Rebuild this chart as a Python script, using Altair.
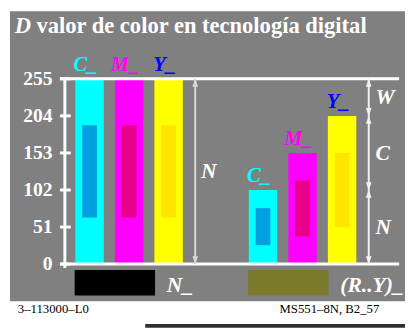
import altair as alt
import pandas as pd

# ---- data ----
groups = ["N_", "(R..Y)_"]
inks = ["C", "M", "Y"]
ink_labels = ["C_", "M_", "Y_"]
top_N = [255, 255, 255]
top_RY = [102, 153, 204]
inner_lo_N = [64, 64, 64]
inner_hi_N = [191, 191, 191]
inner_lo_RY = [26, 38, 51]
inner_hi_RY = [77, 115, 153]
tick_values = [0, 51, 102, 153, 204, 255]
left_arrow_ends = [0, 255]
left_arrow_label = ["N"]
left_arrow_label_pos = [127.5]
right_arrow_stops = [0, 102, 204, 255]
right_arrow_labels = ["N", "C", "W"]
right_arrow_label_pos = [51, 153, 229.5]
title_lead = "D"
title_rest = "valor de color en tecnología digital"
footer_left = "3\u2013113000\u2013L0"
footer_right = "MS551\u20138N, B2_57"

FONT = "Liberation Serif"
GRAY = "#808080"

rows = []
for g, tops, los, his in [(groups[0], top_N, inner_lo_N, inner_hi_N),
                          (groups[1], top_RY, inner_lo_RY, inner_hi_RY)]:
    for ink, lab, t, lo, hi in zip(inks, ink_labels, tops, los, his):
        rows.append({"group": g, "ink": ink, "label": lab, "top": t, "lo": lo, "hi": hi})
bars = pd.DataFrame(rows)

x_enc = alt.X("group:N", scale=alt.Scale(domain=groups, range=[5, 303],
                                         paddingInner=0.316, paddingOuter=0), axis=None)
xo_enc = alt.XOffset("ink:N", scale=alt.Scale(domain=inks, paddingInner=0.28, paddingOuter=0.14))
y_scale = alt.Scale(domain=[0, 255], nice=False, zero=True)
y_axis = alt.Axis(values=tick_values, domain=False, ticks=False, grid=False,
                  labelFont=FONT, labelFontWeight="bold", labelFontSize=20,
                  labelColor="white", labelPadding=13, title=None, zindex=2)

one = pd.DataFrame({"a": [0]})

background = alt.Chart(one).mark_rect(color=GRAY).encode(
    x=alt.value(-56), x2=alt.value(347), y=alt.value(-69), y2=alt.value(227))

outer = alt.Chart(bars).mark_bar().encode(
    x=x_enc, xOffset=xo_enc,
    y=alt.Y("top:Q", scale=y_scale, axis=y_axis, stack=None),
    color=alt.Color("ink:N", scale=alt.Scale(domain=inks, range=["#00ffff", "#ff00ff", "#ffff00"]), legend=None))

inner = alt.Chart(bars).mark_bar(width=15).encode(
    x=x_enc, xOffset=xo_enc,
    y=alt.Y("lo:Q", scale=y_scale, axis=y_axis, stack=None), y2="hi:Q",
    color=alt.Color("ink:N", scale=alt.Scale(domain=inks, range=["#00a0e0", "#e6008a", "#ffe600"]), legend=None))

labels = alt.Chart(bars).mark_text(font=FONT, fontWeight="bold", fontStyle="italic", fontSize=21,
                                   baseline="alphabetic", dy=-8, dx=-4).encode(
    x=x_enc, xOffset=xo_enc,
    y=alt.Y("top:Q", scale=y_scale, axis=y_axis),
    text="label:N",
    color=alt.Color("ink:N", scale=alt.Scale(domain=inks, range=["#00ffff", "#ff00ff", "#0000ff"]), legend=None))

frame = pd.DataFrame({"v": [0, 255]})
hlines = alt.Chart(frame).mark_rule(color="white", strokeWidth=3).encode(
    x=alt.value(-5), x2=alt.value(341), y=alt.Y("v:Q", scale=y_scale, axis=y_axis))
vline = alt.Chart(pd.DataFrame({"v": [255]})).mark_rule(color="white", strokeWidth=3).encode(
    x=alt.value(0), y=alt.Y("v:Q", scale=y_scale, axis=y_axis), y2=alt.value(193))
ticks = alt.Chart(pd.DataFrame({"v": tick_values})).mark_rule(color="white", strokeWidth=3).encode(
    x=alt.value(-5), x2=alt.value(6), y=alt.Y("v:Q", scale=y_scale, axis=y_axis))

UP = "M0,0L-0.36,1L0.36,1Z"
DOWN = "M0,0L-0.36,-1L0.36,-1Z"
shape_scale = alt.Scale(domain=["up", "down"], range=[UP, DOWN])

# left arrow
la = pd.DataFrame({"v": left_arrow_ends})
left_line = alt.Chart(la).mark_rule(color="#d8d8d8", strokeWidth=2).encode(
    x=alt.value(133), y=alt.Y("min(v):Q", scale=y_scale, axis=y_axis), y2="max(v):Q")
la_heads = pd.DataFrame({"v": left_arrow_ends, "dir": ["down", "up"]})
left_heads = alt.Chart(la_heads).mark_point(filled=True, opacity=1, size=256, color="#d8d8d8").encode(
    x=alt.value(133), y=alt.Y("v:Q", scale=y_scale, axis=y_axis),
    shape=alt.Shape("dir:N", scale=shape_scale, legend=None))
left_lab = alt.Chart(pd.DataFrame({"t": left_arrow_label, "v": left_arrow_label_pos})).mark_text(
    font=FONT, fontWeight="bold", fontStyle="italic", fontSize=22, color="white",
    align="left", baseline="middle").encode(
    x=alt.value(139), y=alt.Y("v:Q", scale=y_scale, axis=y_axis), text="t:N")

# right arrow
ra = pd.DataFrame({"v": [right_arrow_stops[0], right_arrow_stops[-1]]})
right_line = alt.Chart(ra).mark_rule(color="#f2f2f2", strokeWidth=2).encode(
    x=alt.value(310), y=alt.Y("min(v):Q", scale=y_scale, axis=y_axis), y2="max(v):Q")
hv, hd = [], []
for a, b in zip(right_arrow_stops[:-1], right_arrow_stops[1:]):
    hv += [a, b]
    hd += ["down", "up"]
right_heads = alt.Chart(pd.DataFrame({"v": hv, "dir": hd})).mark_point(
    filled=True, opacity=1, size=256, color="#f2f2f2").encode(
    x=alt.value(310), y=alt.Y("v:Q", scale=y_scale, axis=y_axis),
    shape=alt.Shape("dir:N", scale=shape_scale, legend=None))
right_lab = alt.Chart(pd.DataFrame({"t": right_arrow_labels, "v": right_arrow_label_pos})).mark_text(
    font=FONT, fontWeight="bold", fontStyle="italic", fontSize=22, color="white",
    align="left", baseline="middle").encode(
    x=alt.value(317), y=alt.Y("v:Q", scale=y_scale, axis=y_axis), text="t:N")

# swatches under the groups
sw = pd.DataFrame({"group": groups})
swatch = alt.Chart(sw).mark_bar(width=82, xOffset=-14.5).encode(
    x=x_enc, y=alt.value(195), y2=alt.value(221),
    color=alt.Color("group:N", scale=alt.Scale(domain=groups, range=["#000000", "#7a7a2a"]), legend=None))
sw_lab = alt.Chart(sw).mark_text(font=FONT, fontWeight="bold", fontStyle="italic", fontSize=22,
                                 color="white", align="left", baseline="middle", dx=38.5).encode(
    x=x_enc, y=alt.value(210), text="group:N")

# title
t1 = alt.Chart(one).mark_text(text=title_lead, font=FONT, fontWeight="bold", fontStyle="italic",
                              fontSize=23, color="white", align="left", baseline="alphabetic").encode(
    x=alt.value(-51), y=alt.value(-47))
t2 = alt.Chart(one).mark_text(text=title_rest, font=FONT, fontWeight="bold",
                              fontSize=23, color="white", align="left", baseline="alphabetic").encode(
    x=alt.value(-29), y=alt.value(-47))

# footer
f1 = alt.Chart(one).mark_text(text=footer_left, font=FONT, fontSize=13, color="black",
                              align="left", baseline="alphabetic").encode(
    x=alt.value(-48), y=alt.value(239))
f2 = alt.Chart(one).mark_text(text=footer_right, font=FONT, fontSize=13, color="black",
                              align="left", baseline="alphabetic").encode(
    x=alt.value(219), y=alt.value(239))
fbar = alt.Chart(one).mark_rect(color="#303030").encode(
    x=alt.value(82), x2=alt.value(347), y=alt.value(250), y2=alt.value(254))

chart = alt.layer(
    background, outer, inner, labels, hlines, vline, ticks,
    left_line, left_heads, left_lab, right_line, right_heads, right_lab,
    swatch, sw_lab, t1, t2, f1, f2, fbar
).resolve_scale(color="independent").properties(
    width=341, height=189,
    autosize=alt.AutoSizeParams(type="none"),
    padding={"left": 58, "top": 69, "right": 6, "bottom": 65},
    background="white",
).configure_view(strokeWidth=0)

chart.save("out.html", embed_options={"renderer": "svg", "actions": False})
